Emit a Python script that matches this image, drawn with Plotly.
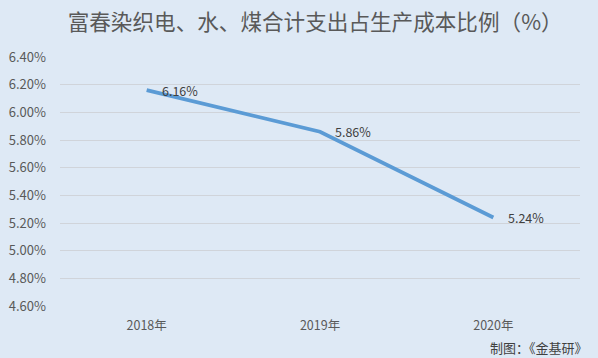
import plotly.graph_objects as go

years = ["2018年", "2019年", "2020年"]
ratios = [6.16, 5.86, 5.24]
labels = ["6.16%", "5.86%", "5.24%"]
ytick_vals = [4.6, 4.8, 5.0, 5.2, 5.4, 5.6, 5.8, 6.0, 6.2, 6.4]
ytick_text = ["4.60%", "4.80%", "5.00%", "5.20%", "5.40%", "5.60%", "5.80%", "6.00%", "6.20%", "6.40%"]

bg = "#DEE9F5"
font = "Noto Sans CJK SC, Microsoft YaHei, sans-serif"

fig = go.Figure(go.Scatter(
    x=years, y=ratios, mode="lines",
    line=dict(color="#5B9BD5", width=3.8),
    cliponaxis=False, hoverinfo="skip",
))

for xv, yv, t in zip(years, ratios, labels):
    fig.add_annotation(x=xv, y=yv, text=t, showarrow=False,
                       xanchor="left", yanchor="middle", xshift=13, yshift=0,
                       font=dict(size=12.5, color="#404040", family=font))

fig.add_annotation(text="制图：《金基研》", xref="paper", yref="paper",
                   x=1.019, y=-0.165, xanchor="right", yanchor="middle",
                   showarrow=False, font=dict(size=13, color="#404040", family=font))

fig.update_layout(
    width=598, height=358,
    paper_bgcolor=bg, plot_bgcolor=bg,
    margin=dict(l=60, r=18, t=57, b=52),
    showlegend=False,
    font=dict(family=font, color="#595959", size=12),
    title=dict(text="富春染织电、水、煤合计支出占生产成本比例（%）",
               x=0.527, xanchor="center", y=0.938, yanchor="middle",
               font=dict(size=21.6, color="#595959", family=font)),
    xaxis=dict(range=[-0.5, 2.5], showgrid=False, showline=False, zeroline=False,
               ticks="", tickfont=dict(size=12.5, color="#595959"),
               ticklabelstandoff=10, automargin=False),
    yaxis=dict(range=[4.6, 6.4], tickvals=ytick_vals, ticktext=ytick_text,
               showgrid=True, gridcolor="#D0D4DA", gridwidth=1,
               zeroline=False, showline=False, ticks="",
               tickfont=dict(size=13, color="#595959"),
               ticklabelstandoff=13, automargin=False),
)

fig.write_html("out.html", config={"displayModeBar": False},
               post_script="document.body.style.margin='0';document.body.style.background='#DEE9F5';")
